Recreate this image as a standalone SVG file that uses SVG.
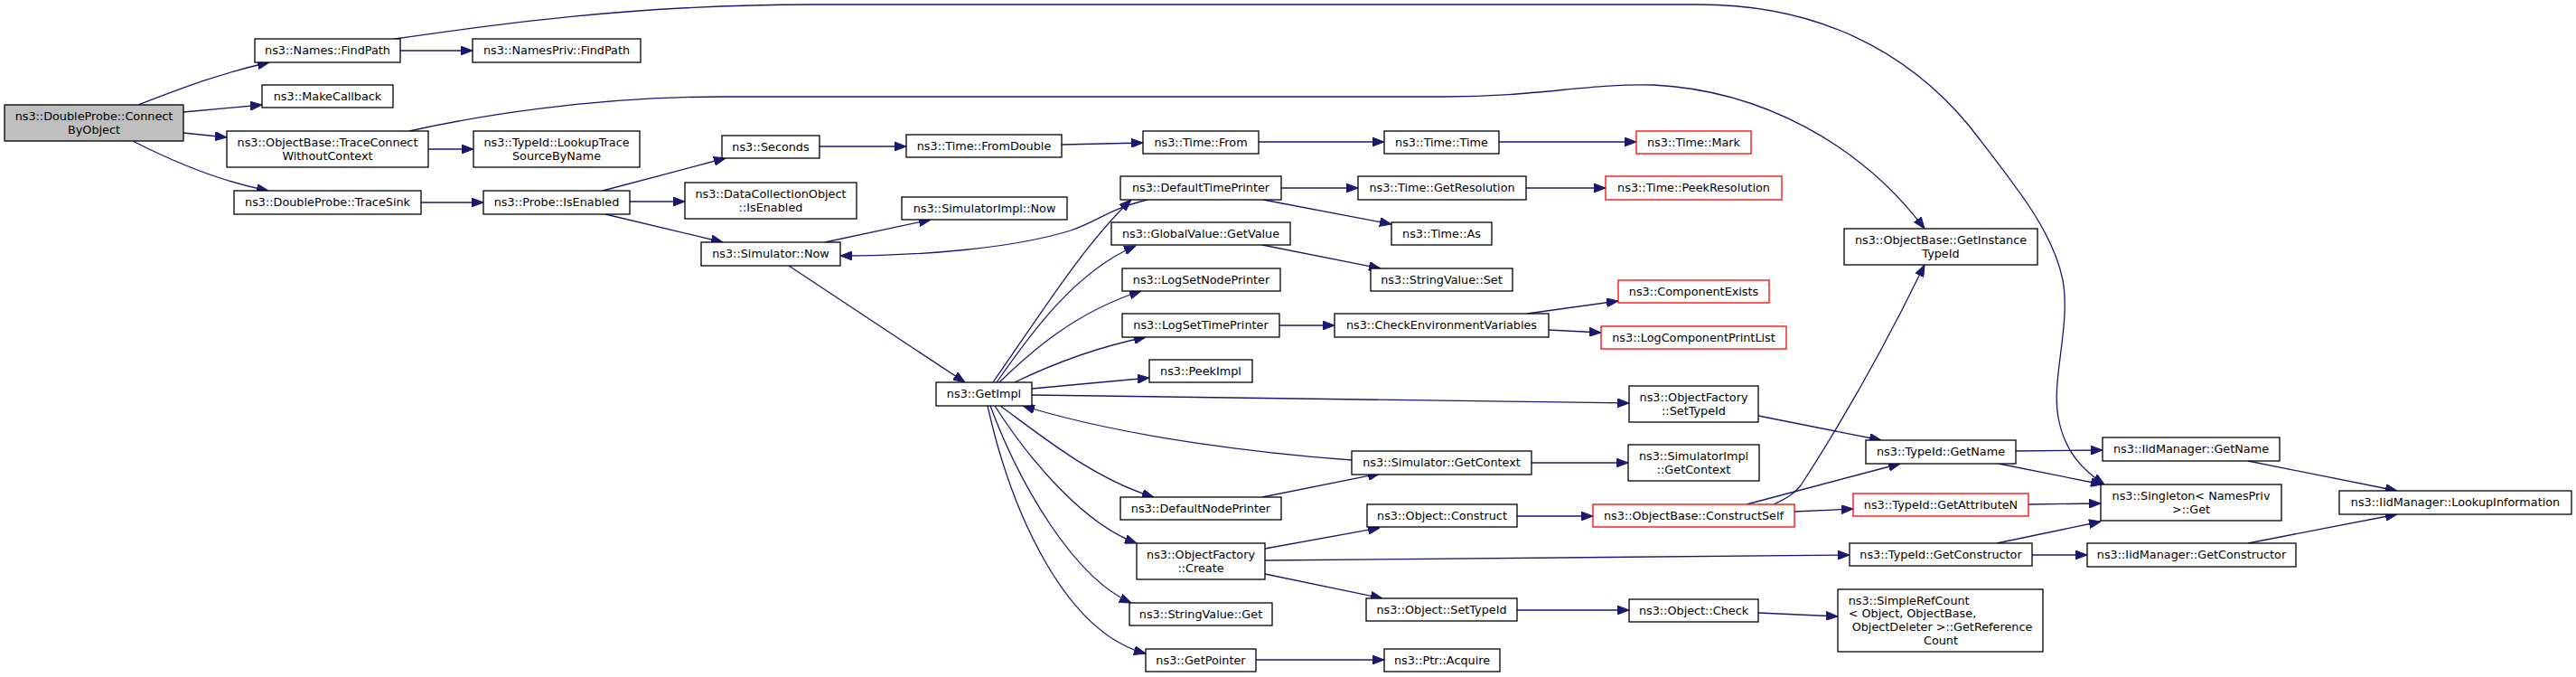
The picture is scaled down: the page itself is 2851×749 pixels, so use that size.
<svg xmlns="http://www.w3.org/2000/svg" width="2851" height="749" viewBox="0 0 2851 749">
<style>
.n rect{fill:#fff;stroke:#000;stroke-width:1.3}
.root rect{fill:#bfbfbf}
.red rect{stroke:#ff0000}
text{font-family:"DejaVu Sans",sans-serif;font-size:12.8px;text-anchor:middle;fill:#000}
.st{text-anchor:start}
#edges path{fill:none;stroke:#191970;stroke-width:1.3;marker-end:url(#a)}
</style>
<defs>
<marker id="a" viewBox="0 0 13 10" refX="13" refY="5" markerWidth="13" markerHeight="10" markerUnits="userSpaceOnUse" orient="auto">
<path d="M0,0 L13,5 L0,10 z" fill="#191970" stroke="#191970" stroke-width="1"/>
</marker>
</defs>
<rect width="2851" height="749" fill="#fff"/>
<g id="edges">
<path d="M153,116 C195,100 240,82 298,69"/>
<path d="M203,124 L290,116"/>
<path d="M203,147 L251,152"/>
<path d="M147,156 C190,178 240,200 297,211"/>
<path d="M443,56 L523,56"/>
<path d="M437,43 C540,28 700,5 900,5 L1880,5 C2010,5 2110,55 2180,140 C2230,205 2272,255 2283,310 C2292,360 2270,420 2278,462 C2285,500 2305,520 2329,536"/>
<path d="M474,165 L524,165"/>
<path d="M453,145 C520,130 650,107 800,107 L1600,107 C1700,107 1760,92 1830,94 C1950,100 2060,160 2130,253"/>
<path d="M466,224 L535,224"/>
<path d="M667,211 L803,175"/>
<path d="M697,223 L758,223"/>
<path d="M670,237 L800,268"/>
<path d="M907,162 L1003,162"/>
<path d="M1175,160 L1265,158"/>
<path d="M1393,157 L1532,157"/>
<path d="M1659,157 L1811,157"/>
<path d="M913,268 L1030,243"/>
<path d="M873,294 L1068,423"/>
<path d="M1270,221 C1225,232 1215,245 1185,255 C1120,275 1020,283 930,283"/>
<path d="M1418,208 L1503,208"/>
<path d="M1398,221 L1540,248"/>
<path d="M1689,208 L1777,208"/>
<path d="M1099,423 C1150,350 1200,270 1252,221"/>
<path d="M1103,423 C1140,370 1190,300 1257,272"/>
<path d="M1106,423 C1140,390 1190,345 1263,322"/>
<path d="M1123,423 C1160,405 1210,385 1268,373"/>
<path d="M1142,430 L1272,418"/>
<path d="M1142,437 L1803,446"/>
<path d="M1496,509 C1400,502 1250,485 1132,449"/>
<path d="M1107,449 C1150,480 1210,530 1277,550"/>
<path d="M1101,449 C1140,510 1200,580 1258,601"/>
<path d="M1096,449 C1130,540 1190,640 1252,667"/>
<path d="M1093,449 C1120,570 1180,700 1268,723"/>
<path d="M1397,550 L1527,524"/>
<path d="M1695,512 L1802,512"/>
<path d="M1400,607 L1527,584"/>
<path d="M1400,620 L2047,614"/>
<path d="M1400,635 L1530,662"/>
<path d="M1679,571 L1763,571"/>
<path d="M1933,558 L2103,513"/>
<path d="M1963,558 C1978,551 1986,546 1993,537 C2040,465 2090,375 2130,293"/>
<path d="M1986,566 L2051,563"/>
<path d="M1946,460 L2082,487"/>
<path d="M2231,499 L2327,498"/>
<path d="M2212,513 L2327,536"/>
<path d="M2245,558 L2325,557"/>
<path d="M2210,601 L2325,577"/>
<path d="M2249,614 L2310,614"/>
<path d="M2488,510 L2653,543"/>
<path d="M2488,601 L2653,569"/>
<path d="M1679,675 L1803,675"/>
<path d="M1946,678 L2034,682"/>
<path d="M1390,730 L1532,730"/>
<path d="M1397,271 L1528,297"/>
<path d="M1416,360 L1477,360"/>
<path d="M1690,347 L1791,333"/>
<path d="M1714,365 L1772,368"/>
</g>
<g id="n1" class="n root"><rect x="5" y="116" width="198" height="40"/><text x="104" y="132.5">ns3::DoubleProbe::Connect</text><text x="104" y="147.5">ByObject</text></g>
<g id="n2" class="n"><rect x="282" y="43" width="161" height="26"/><text x="362.5" y="60">ns3::Names::FindPath</text></g>
<g id="n3" class="n"><rect x="290" y="94" width="145" height="25"/><text x="362.5" y="110.5">ns3::MakeCallback</text></g>
<g id="n4" class="n"><rect x="251" y="145" width="223" height="40"/><text x="362.5" y="161.5">ns3::ObjectBase::TraceConnect</text><text x="362.5" y="176.5">WithoutContext</text></g>
<g id="n5" class="n"><rect x="259" y="211" width="207" height="26"/><text x="362.5" y="228">ns3::DoubleProbe::TraceSink</text></g>
<g id="n6" class="n"><rect x="523" y="43" width="186" height="26"/><text x="616" y="60">ns3::NamesPriv::FindPath</text></g>
<g id="n7" class="n"><rect x="524" y="145" width="184" height="40"/><text x="616" y="161.5">ns3::TypeId::LookupTrace</text><text x="616" y="176.5">SourceByName</text></g>
<g id="n8" class="n"><rect x="535" y="211" width="162" height="26"/><text x="616" y="228">ns3::Probe::IsEnabled</text></g>
<g id="n9" class="n"><rect x="799" y="150" width="108" height="25"/><text x="853" y="166.5">ns3::Seconds</text></g>
<g id="n10" class="n"><rect x="758" y="202" width="190" height="40"/><text x="853" y="218.5">ns3::DataCollectionObject</text><text x="853" y="233.5">::IsEnabled</text></g>
<g id="n11" class="n"><rect x="776" y="268" width="154" height="26"/><text x="853" y="285">ns3::Simulator::Now</text></g>
<g id="n12" class="n"><rect x="1003" y="149" width="172" height="25"/><text x="1089" y="165.5">ns3::Time::FromDouble</text></g>
<g id="n13" class="n"><rect x="1265" y="145" width="128" height="25"/><text x="1329" y="161.5">ns3::Time::From</text></g>
<g id="n14" class="n"><rect x="998" y="218" width="183" height="25"/><text x="1089.5" y="234.5">ns3::SimulatorImpl::Now</text></g>
<g id="n15" class="n"><rect x="1240" y="195" width="178" height="26"/><text x="1329" y="212">ns3::DefaultTimePrinter</text></g>
<g id="n16" class="n"><rect x="1230" y="246" width="198" height="25"/><text x="1329" y="262.5">ns3::GlobalValue::GetValue</text></g>
<g id="n17" class="n"><rect x="1242" y="297" width="175" height="25"/><text x="1329.5" y="313.5">ns3::LogSetNodePrinter</text></g>
<g id="n18" class="n"><rect x="1242" y="347" width="174" height="26"/><text x="1329" y="364">ns3::LogSetTimePrinter</text></g>
<g id="n19" class="n"><rect x="1272" y="398" width="114" height="25"/><text x="1329" y="414.5">ns3::PeekImpl</text></g>
<g id="n20" class="n"><rect x="1036" y="423" width="106" height="26"/><text x="1089" y="440">ns3::GetImpl</text></g>
<g id="n21" class="n"><rect x="1240" y="550" width="178" height="25"/><text x="1329" y="566.5">ns3::DefaultNodePrinter</text></g>
<g id="n22" class="n"><rect x="1258" y="601" width="142" height="40"/><text x="1329" y="617.5">ns3::ObjectFactory</text><text x="1329" y="632.5">::Create</text></g>
<g id="n23" class="n"><rect x="1250" y="667" width="158" height="25"/><text x="1329" y="683.5">ns3::StringValue::Get</text></g>
<g id="n24" class="n"><rect x="1268" y="718" width="122" height="25"/><text x="1329" y="734.5">ns3::GetPointer</text></g>
<g id="n25" class="n"><rect x="1532" y="145" width="127" height="25"/><text x="1595.5" y="161.5">ns3::Time::Time</text></g>
<g id="n26" class="n red"><rect x="1811" y="145" width="127" height="25"/><text x="1874.5" y="161.5">ns3::Time::Mark</text></g>
<g id="n27" class="n"><rect x="1503" y="195" width="186" height="26"/><text x="1596" y="212">ns3::Time::GetResolution</text></g>
<g id="n28" class="n red"><rect x="1777" y="195" width="195" height="26"/><text x="1874.5" y="212">ns3::Time::PeekResolution</text></g>
<g id="n29" class="n"><rect x="1540" y="246" width="111" height="25"/><text x="1595.5" y="262.5">ns3::Time::As</text></g>
<g id="n30" class="n"><rect x="1517" y="297" width="157" height="25"/><text x="1595.5" y="313.5">ns3::StringValue::Set</text></g>
<g id="n31" class="n"><rect x="1477" y="347" width="237" height="26"/><text x="1595.5" y="364">ns3::CheckEnvironmentVariables</text></g>
<g id="n32" class="n red"><rect x="1791" y="310" width="167" height="25"/><text x="1874.5" y="326.5">ns3::ComponentExists</text></g>
<g id="n33" class="n red"><rect x="1772" y="361" width="205" height="25"/><text x="1874.5" y="377.5">ns3::LogComponentPrintList</text></g>
<g id="n34" class="n"><rect x="1803" y="427" width="143" height="40"/><text x="1874.5" y="443.5">ns3::ObjectFactory</text><text x="1874.5" y="458.5">::SetTypeId</text></g>
<g id="n35" class="n"><rect x="1496" y="499" width="199" height="26"/><text x="1595.5" y="516">ns3::Simulator::GetContext</text></g>
<g id="n36" class="n"><rect x="1802" y="492" width="145" height="40"/><text x="1874.5" y="508.5">ns3::SimulatorImpl</text><text x="1874.5" y="523.5">::GetContext</text></g>
<g id="n37" class="n"><rect x="1513" y="558" width="166" height="25"/><text x="1596" y="574.5">ns3::Object::Construct</text></g>
<g id="n38" class="n red"><rect x="1763" y="558" width="223" height="25"/><text x="1874.5" y="574.5">ns3::ObjectBase::ConstructSelf</text></g>
<g id="n39" class="n"><rect x="1512" y="662" width="167" height="25"/><text x="1595.5" y="678.5">ns3::Object::SetTypeId</text></g>
<g id="n40" class="n"><rect x="1803" y="663" width="143" height="25"/><text x="1874.5" y="679.5">ns3::Object::Check</text></g>
<g id="n41" class="n"><rect x="1532" y="718" width="128" height="25"/><text x="1596" y="734.5">ns3::Ptr::Acquire</text></g>
<g id="n42" class="n"><rect x="2041" y="253" width="214" height="40"/><text x="2148" y="269.5">ns3::ObjectBase::GetInstance</text><text x="2148" y="284.5">TypeId</text></g>
<g id="n43" class="n"><rect x="2065" y="487" width="166" height="26"/><text x="2148" y="504">ns3::TypeId::GetName</text></g>
<g id="n44" class="n red"><rect x="2051" y="546" width="194" height="25"/><text x="2148" y="562.5">ns3::TypeId::GetAttributeN</text></g>
<g id="n45" class="n"><rect x="2047" y="601" width="202" height="25"/><text x="2148" y="617.5">ns3::TypeId::GetConstructor</text></g>
<g id="n46" class="n"><rect x="2034" y="652" width="227" height="69"/><text class="st" x="2045.7" y="668.5">ns3::SimpleRefCount</text><text class="st" x="2045.7" y="683.2">&lt; Object, ObjectBase,</text><text x="2149.5" y="697.9">ObjectDeleter &gt;::GetReference</text><text x="2148" y="712.6">Count</text></g>
<g id="n47" class="n"><rect x="2327" y="484" width="196" height="26"/><text x="2425" y="501">ns3::IidManager::GetName</text></g>
<g id="n48" class="n"><rect x="2325" y="536" width="200" height="40"/><text x="2425" y="552.5">ns3::Singleton&lt; NamesPriv</text><text x="2425" y="567.5">&gt;::Get</text></g>
<g id="n49" class="n"><rect x="2310" y="601" width="231" height="26"/><text x="2425.5" y="618">ns3::IidManager::GetConstructor</text></g>
<g id="n50" class="n"><rect x="2589" y="543" width="257" height="26"/><text x="2717.5" y="560">ns3::IidManager::LookupInformation</text></g>
</svg>
